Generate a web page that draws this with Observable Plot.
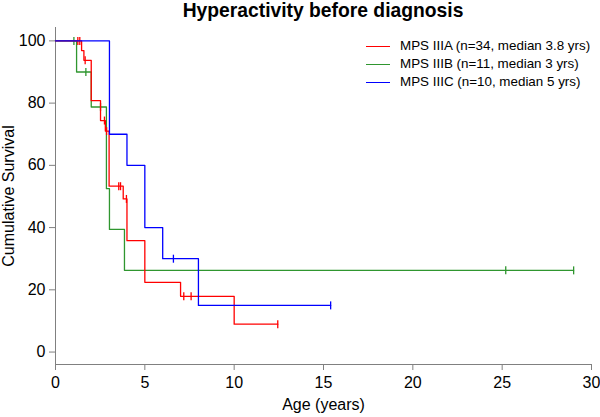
<!DOCTYPE html>
<html><head><meta charset="utf-8">
<script src="https://cdn.jsdelivr.net/npm/d3@7"></script>
<script src="https://cdn.jsdelivr.net/npm/@observablehq/plot@0.6"></script>
<style>
body{margin:0;background:#fff;font-family:Arial,"Liberation Sans",sans-serif;}
#wrap{position:relative;width:600px;height:417px;overflow:hidden;}
#title{height:22px;line-height:22px;padding-left:46px;text-align:center;font-weight:bold;font-size:19.3px;color:#000;}
#legend{position:absolute;left:366px;top:37px;font-size:13.4px;color:#000;}
#legend .row{height:18px;line-height:18px;white-space:nowrap;}
#legend .sw{display:inline-block;width:24px;height:0;border-top:1px solid;vertical-align:middle;margin-right:10px;}
</style></head><body>
<div id="wrap"><div id="title">Hyperactivity before diagnosis</div><div id="chart"></div><div id="legend"></div></div>
<script>
// ---- data ----
const groups = ["MPS IIIA", "MPS IIIB", "MPS IIIC"];
const nCounts = [34, 11, 10];
const medians = ["3.8", "3", "5"];
const colors = ["#ff0000", "#2f962f", "#0000ff"];

const redTimes = [0, 1.46, 1.59, 2.0, 2.52, 2.79, 3.0, 3.79, 4.0, 5.0, 7.0, 10.0, 12.44];
const redSurv  = [100, 96.9, 93.75, 80.8, 74.4, 71.0, 53.3, 49.2, 35.8, 22.4, 17.9, 8.95, 8.95];
const redCensorT = [1.25, 1.36, 1.66, 2.74, 2.86, 3.54, 3.64, 3.97, 7.18, 7.59, 12.44];
const redCensorS = [100, 100, 93.75, 74.4, 71.0, 53.3, 53.3, 49.2, 17.9, 17.9, 8.95];

const greenTimes = [0, 1.18, 2.0, 2.85, 3.02, 3.86, 29.0];
const greenSurv  = [100, 90, 78.75, 52.5, 39.4, 26.25, 26.25];
const greenCensorT = [1.03, 1.7, 2.52, 25.2, 29.0];
const greenCensorS = [100, 90, 78.75, 26.25, 26.25];

const blueTimes = [0, 3.02, 4.0, 5.0, 6.0, 8.0, 15.4];
const blueSurv  = [100, 70, 60, 40, 30, 15, 15];
const blueCensorT = [6.6, 15.4];
const blueCensorS = [30, 15];

const xTicks = [0, 5, 10, 15, 20, 25, 30];
const yTicks = [0, 20, 40, 60, 80, 100];
const xDomain = [0, 30];
const yDomain = [-4, 104.3];

// ---- build tables ----
const series = [
  {t: redTimes, s: redSurv, ct: redCensorT, cs: redCensorS},
  {t: greenTimes, s: greenSurv, ct: greenCensorT, cs: greenCensorS},
  {t: blueTimes, s: blueSurv, ct: blueCensorT, cs: blueCensorS}
];
const steps = [], censors = [];
series.forEach((d, i) => {
  d.t.forEach((t, j) => steps.push({g: groups[i], t, s: d.s[j]}));
  d.ct.forEach((t, j) => censors.push({g: groups[i], t, s: d.cs[j]}));
});
const vtick = {draw(ctx, size){ const r = Math.sqrt(size / Math.PI); ctx.moveTo(0, -r); ctx.lineTo(0, r); }};
const drawOrder = [1, 0, 2];

const marks = [
  Plot.ruleX([xDomain[0]], {stroke: "#808080", strokeWidth: 1}),
  Plot.ruleY([yDomain[0]], {stroke: "#808080", strokeWidth: 1}),
  Plot.axisX({ticks: xTicks, tickSize: 6, tickPadding: 6.5, stroke: "#808080", fill: "#000",
    label: "Age (years)", labelAnchor: "center", labelOffset: 45, labelArrow: "none"}),
  Plot.axisY({ticks: yTicks, tickSize: 6, tickPadding: 4, stroke: "#808080", fill: "#000",
    label: "Cumulative Survival", labelAnchor: "center", labelOffset: 53, labelArrow: "none"})
];
drawOrder.forEach(i => {
  marks.push(Plot.line(steps.filter(d => d.g === groups[i]), {x: "t", y: "s", curve: "step-after", stroke: colors[i], strokeWidth: 1.3}));
  marks.push(Plot.dot(censors.filter(d => d.g === groups[i]), {x: "t", y: "s", r: 4, symbol: vtick, stroke: colors[i], strokeWidth: 1.3, fill: "none"}));
});

const chart = Plot.plot({
  width: 600, height: 395,
  marginLeft: 55, marginRight: 9, marginTop: 5, marginBottom: 53,
  x: {domain: xDomain},
  y: {domain: yDomain},
  style: {fontFamily: "Arial, 'Liberation Sans', sans-serif", fontSize: "16px", background: "#fff", color: "#000", overflow: "visible"},
  marks
});
document.getElementById("chart").appendChild(chart);

const legend = document.getElementById("legend");
groups.forEach((g, i) => {
  const row = document.createElement("div");
  row.className = "row";
  const sw = document.createElement("span");
  sw.className = "sw";
  sw.style.borderTopColor = colors[i];
  row.appendChild(sw);
  row.appendChild(document.createTextNode(`${g} (n=${nCounts[i]}, median ${medians[i]} yrs)`));
  legend.appendChild(row);
});
</script>
</body></html>
